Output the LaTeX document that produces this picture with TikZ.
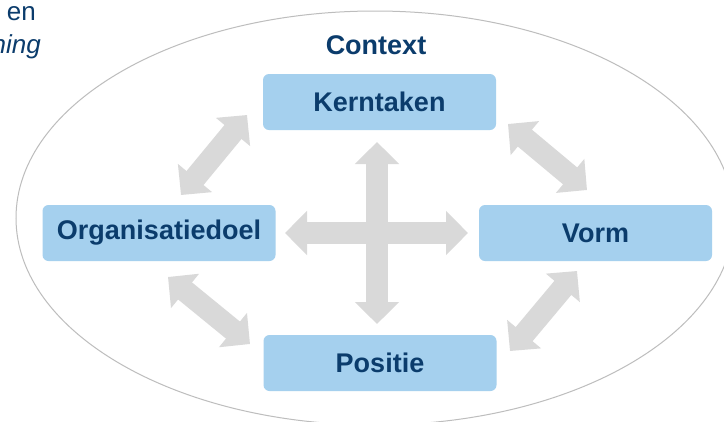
\documentclass[tikz,border=0pt]{standalone}
\usepackage{fontspec}
\setmainfont{Liberation Sans}
\usetikzlibrary{arrows.meta}
\definecolor{boxblue}{HTML}{A5D0EE}
\definecolor{navy}{HTML}{0B3C6C}
\definecolor{arrowgray}{HTML}{D9D9D9}
\definecolor{ellgray}{HTML}{BDBDBD}
\tikzset{
  box/.style={fill=boxblue, draw=none, rounded corners=6pt, minimum width=233pt, minimum height=56pt, inner sep=0pt, text=navy, font=\fontsize{27}{32}\selectfont\bfseries},
  bigarrow/.style={draw=arrowgray, line width=22pt, {Triangle[length=22pt,width=43pt]}-{Triangle[length=22pt,width=43pt]}},
  lbl/.style={text=navy, inner sep=0pt},
  contextline/.style={draw=ellgray, line width=1pt}
}
\begin{document}
\begin{tikzpicture}[x=1pt,y=-1pt]
\useasboundingbox (0,0) rectangle (724,421);
\clip (0,0) rectangle (724,421);
\fill[white] (0,0) rectangle (724,421);
\draw[contextline] (375,218) ellipse [x radius=359, y radius=207];
\node[lbl, anchor=base east, font=\fontsize{26}{30}\selectfont] (en) at (36,20) {en};
\node[lbl, anchor=base east, font=\fontsize{26}{30}\selectfont\itshape] (ning) at (41,53) {ning};
\node[lbl, font=\fontsize{27}{32}\selectfont\bfseries] (context) at (376,45) {Context};
\node[box] (kern) at (379.5,102) {Kerntaken};
\node[box] (org) at (159,233) {Organisatiedoel};
\node[box] (vorm) at (595.5,233) {Vorm};
\node[box] (pos) at (380,363) {Positie};
% central cross
\coordinate (vt) at (377,142);
\coordinate (vb) at (377,324);
\coordinate (hl) at (285,233);
\coordinate (hr) at (468,233);
\draw[bigarrow] (vt) -- (vb);
\draw[bigarrow] (hl) -- (hr);
% diagonals
\coordinate (tl1) at (181,195);
\coordinate (tl2) at (247,115);
\coordinate (tr1) at (508,124);
\coordinate (tr2) at (587,190);
\coordinate (br1) at (577,271);
\coordinate (br2) at (510,351);
\coordinate (bl1) at (168,277);
\coordinate (bl2) at (250,344);
\draw[bigarrow] (tl1) -- (tl2);
\draw[bigarrow] (tr1) -- (tr2);
\draw[bigarrow] (br1) -- (br2);
\draw[bigarrow] (bl1) -- (bl2);
\end{tikzpicture}
\end{document}
